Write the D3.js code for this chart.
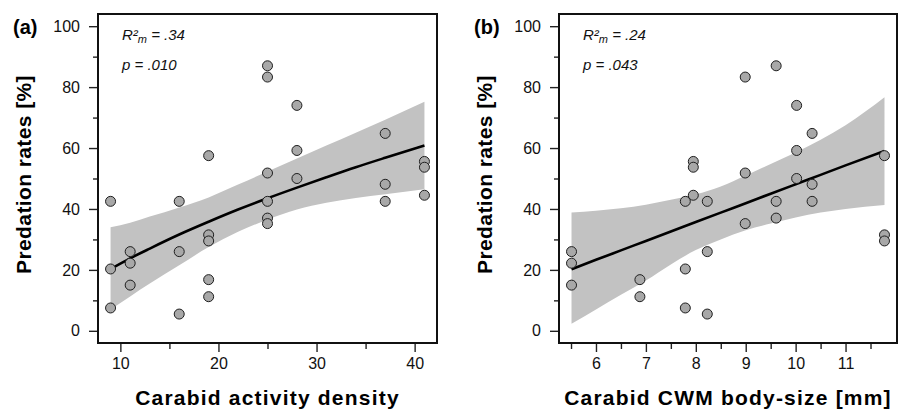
<!DOCTYPE html>
<html>
<head>
<meta charset="utf-8">
<script src="https://cdn.jsdelivr.net/npm/d3@7"></script>
<style>
  body { margin: 0; background: #fff; }
  svg { display: block; font-family: "Liberation Sans", Arial, sans-serif; }
</style>
</head>
<body>
<div id="chart"></div>
<script>

//=====================================================
// data
var activityDensity = [9, 9, 9, 11, 11, 11, 16, 16, 16, 19, 19, 19, 19, 19,
  25, 25, 25, 25, 25, 25, 28, 28, 28, 37, 37, 37, 41, 41, 41];
var predationA = [42.5, 20.3, 7.5, 26, 22.2, 15, 42.5, 26, 5.5, 57.5, 31.5, 29.5, 16.8, 11.2,
  87, 83.3, 51.8, 42.5, 37, 35.2, 74, 59.2, 50, 64.8, 48.1, 42.5, 55.6, 53.7, 44.5];

var bodySize = [5.51, 5.51, 5.51, 6.88, 6.88, 7.79, 7.79, 7.79, 7.95, 7.95, 7.95,
  8.23, 8.23, 8.23, 8.99, 8.99, 8.99, 9.61, 9.61, 9.61, 10.02, 10.02, 10.02,
  10.33, 10.33, 10.33, 11.78, 11.78, 11.78];
var predationB = [26, 22.2, 15, 16.8, 11.2, 42.5, 20.3, 7.5, 55.6, 53.7, 44.5,
  42.5, 26, 5.5, 83.3, 51.8, 35.2, 87, 42.5, 37, 74, 59.2, 50,
  64.8, 48.1, 42.5, 57.5, 31.5, 29.5];

// fitted model + 95% band
var fitAx    = [9, 11, 13, 16, 19, 22, 25, 28, 31, 34, 37, 41];
var fitAmean = [20.3, 23.8, 27, 31.6, 35.8, 39.8, 43.5, 47, 50.4, 53.7, 56.8, 60.8];
var fitAlo   = [7, 11.3, 15.5, 21.5, 27.5, 32.5, 36.5, 39.8, 42, 43.6, 44.8, 46.5];
var fitAhi   = [34, 35.5, 37.5, 40.5, 43.8, 48, 52.3, 56.6, 60.8, 65, 69.3, 75.2];

var fitBx    = [5.51, 6, 6.5, 7, 7.5, 8, 8.5, 9, 9.5, 10, 10.5, 11, 11.78];
var fitBmean = [20.2, 23.3, 26.4, 29.5, 32.6, 35.7, 38.8, 41.9, 45, 48.1, 51.2, 54.3, 59];
var fitBlo   = [2.3, 7, 11.8, 16.5, 21.8, 26.5, 30, 33, 35.2, 37.2, 38.8, 40, 41.3];
var fitBhi   = [38.8, 39.4, 40.2, 41.4, 43, 44.8, 47.4, 51, 54.8, 58.5, 62.7, 67.5, 76.7];

var yMajor = [0, 20, 40, 60, 80, 100];
var yMinor = [10, 30, 50, 70, 90];

var panels = [
  { tag: "(a)", xs: activityDensity, ys: predationA,
    fx: fitAx, fm: fitAmean, flo: fitAlo, fhi: fitAhi,
    xMajor: [10, 20, 30, 40], xMinor: [15, 25, 35],
    xTitle: "Carabid activity density", r2: ".34", p: ".010" },
  { tag: "(b)", xs: bodySize, ys: predationB,
    fx: fitBx, fm: fitBmean, flo: fitBlo, fhi: fitBhi,
    xMajor: [6, 7, 8, 9, 10, 11], xMinor: [5.5, 6.5, 7.5, 8.5, 9.5, 10.5, 11.5],
    xTitle: "Carabid CWM body-size [mm]", r2: ".24", p: ".043" }
];

//=====================================================
var width = 904, height = 412;
var boxes = [{ left: 98, right: 437 }, { left: 559, right: 897 }];
var plotTop = 14, plotBottom = 343;

var svg = d3.select("#chart").append("svg")
  .attr("width", width)
  .attr("height", height);

// R-style axis range: data range padded 4% each side
function padded(ext) {
  var d = (ext[1] - ext[0]) * 0.04;
  return [ext[0] - d, ext[1] + d];
}

var y = d3.scaleLinear().domain([-4, 104]).range([plotBottom, plotTop]);

panels.forEach(function(pn, i) {
  var b = boxes[i];
  var g = svg.append("g");

  var x = d3.scaleLinear()
    .domain(padded(d3.extent(pn.xs)))
    .range([b.left, b.right]);

  var fit = pn.fx.map(function(v, k) {
    return { x: v, m: pn.fm[k], lo: pn.flo[k], hi: pn.fhi[k] };
  });

  // confidence band
  g.append("path")
    .datum(fit)
    .attr("fill", "#c2c2c2")
    .attr("d", d3.area()
      .curve(d3.curveMonotoneX)
      .x(function(d) { return x(d.x); })
      .y0(function(d) { return y(d.lo); })
      .y1(function(d) { return y(d.hi); }));

  // fitted line
  g.append("path")
    .datum(fit)
    .attr("fill", "none")
    .attr("stroke", "#000")
    .attr("stroke-width", 2.6)
    .attr("d", d3.line()
      .curve(d3.curveMonotoneX)
      .x(function(d) { return x(d.x); })
      .y(function(d) { return y(d.m); }));

  // points
  g.append("g").selectAll("circle")
    .data(pn.xs.map(function(v, k) { return [v, pn.ys[k]]; }))
    .enter()
    .append("circle")
    .attr("cx", function(d) { return x(d[0]); })
    .attr("cy", function(d) { return y(d[1]); })
    .attr("r", 5)
    .attr("fill", "#a8a8a8")
    .attr("stroke", "#1e1e1e")
    .attr("stroke-width", 1);

  // axes (box edge is the axis line)
  g.append("g").attr("transform", "translate(0," + plotBottom + ")")
    .call(d3.axisBottom(x).tickValues(pn.xMajor).tickSize(9).tickPadding(6).tickFormat(d3.format("d")));
  g.append("g").attr("transform", "translate(0," + plotBottom + ")")
    .call(d3.axisBottom(x).tickValues(pn.xMinor).tickSize(6).tickFormat(""));
  g.append("g").attr("transform", "translate(" + b.left + ",0)")
    .call(d3.axisLeft(y).tickValues(yMajor).tickSize(9).tickPadding(9));
  g.append("g").attr("transform", "translate(" + b.left + ",0)")
    .call(d3.axisLeft(y).tickValues(yMinor).tickSize(5).tickFormat(""));

  g.selectAll(".domain").remove();
  g.selectAll(".tick line").attr("stroke", "#222").attr("stroke-width", 1.4);
  g.selectAll(".tick text")
    .attr("fill", "#111")
    .style("font-size", "16px")
    .style("font-family", "'Liberation Sans', Arial, sans-serif");

  // plot box
  g.append("rect")
    .attr("x", b.left)
    .attr("y", plotTop)
    .attr("width", b.right - b.left)
    .attr("height", plotBottom - plotTop)
    .attr("fill", "none")
    .attr("stroke", "#111")
    .attr("stroke-width", 2);

  // titles
  g.append("text")
    .attr("x", (b.left + b.right) / 2)
    .attr("y", 405)
    .attr("text-anchor", "middle")
    .style("font-size", "21px")
    .style("font-weight", "bold")
    .style("letter-spacing", "1.2px")
    .text(pn.xTitle);

  g.append("text")
    .attr("transform", "translate(" + (b.left - 67) + "," + ((plotTop + plotBottom) / 2 - 4) + ") rotate(-90)")
    .attr("text-anchor", "middle")
    .style("font-size", "21px")
    .style("font-weight", "bold")
    .style("letter-spacing", "0.4px")
    .text("Predation rates [%]");

  g.append("text")
    .attr("x", b.left - 85)
    .attr("y", 34)
    .style("font-size", "20px")
    .style("font-weight", "bold")
    .text(pn.tag);

  // stats
  var r2 = g.append("text")
    .attr("x", b.left + 24)
    .attr("y", 40)
    .style("font-size", "15px")
    .style("font-style", "italic")
    .attr("fill", "#111");
  r2.append("tspan").text("R\u00b2");
  r2.append("tspan").attr("dy", 3).style("font-size", "11px").text("m");
  r2.append("tspan").attr("dy", -3).text(" = " + pn.r2);

  g.append("text")
    .attr("x", b.left + 24)
    .attr("y", 70)
    .style("font-size", "15px")
    .style("font-style", "italic")
    .attr("fill", "#111")
    .text("p = " + pn.p);
});

</script>
</body>
</html>
